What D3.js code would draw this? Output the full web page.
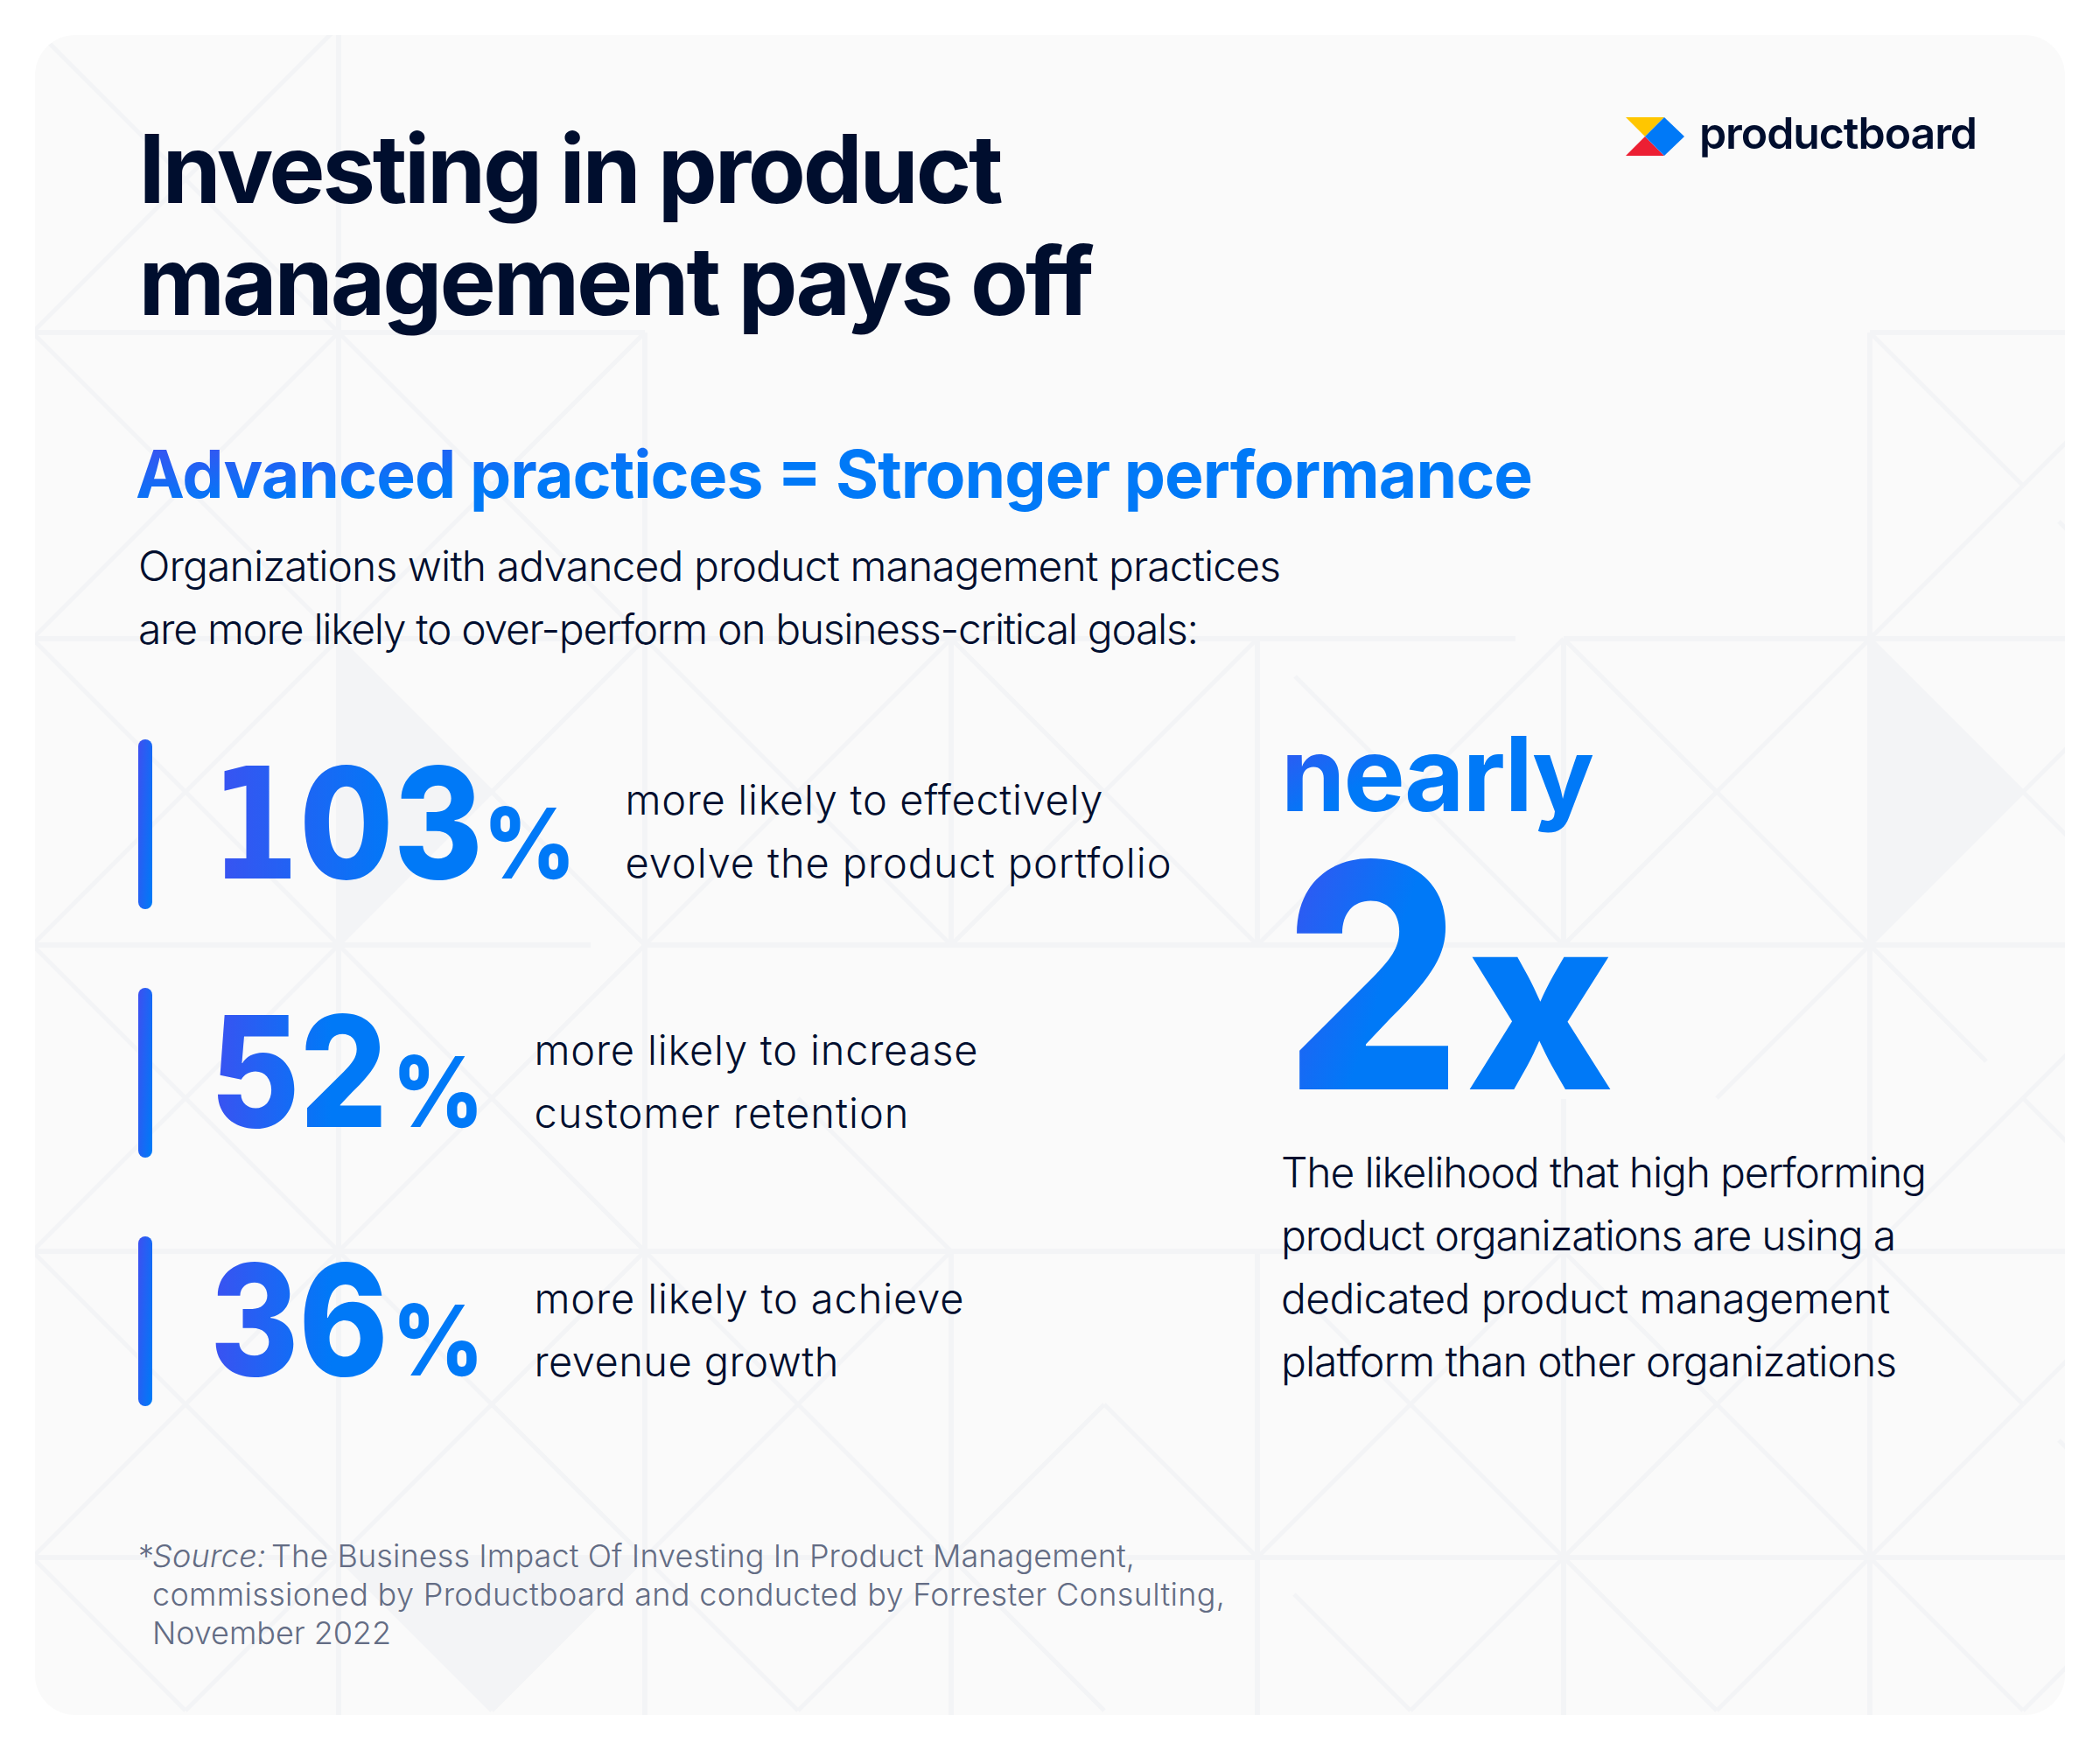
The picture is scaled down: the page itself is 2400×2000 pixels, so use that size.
<!DOCTYPE html>
<html lang="en">
<head>
  <meta charset="UTF-8">
  <title>Investing in product management pays off</title>
  <script src="https://cdnjs.cloudflare.com/ajax/libs/d3/7.8.5/d3.min.js"></script>
  <style>
    html, body { margin: 0; padding: 0; background: #fff; }
    svg { display: block; }
    text { font-family: Inter, "Liberation Sans", sans-serif; }
  </style>
</head>
<body>
  <div id="chart"></div>
  <script>
    // Chart text and values
    const titleLines = ["Investing in product", "management pays off"];
    const subheadText = "Advanced practices = Stronger performance";
    const introLines = [
      "Organizations with advanced product management practices",
      "are more likely to over-perform on business-critical goals:"
    ];
    const statValues = [103, 52, 36];
    const statUnit = "%";
    const statLines = [
      ["more likely to effectively", "evolve the product portfolio"],
      ["more likely to increase", "customer retention"],
      ["more likely to achieve", "revenue growth"]
    ];
    const multipleLead = "nearly";
    const multipleValue = 2;
    const multipleUnit = "x";
    const multipleLines = [
      "The likelihood that high performing",
      "product organizations are using a",
      "dedicated product management",
      "platform than other organizations"
    ];
    const sourceLines = [
      "The Business Impact Of Investing In Product Management,",
      "commissioned by Productboard and conducted by Forrester Consulting,",
      "November 2022"
    ];
    const logoName = "productboard";

    // Background pattern, all in grid cell units
    const hRuns = [[1, -0.1, 2], [1, 6, 7], [2, -0.1, 4.843], [2, 5, 7], [3, -0.1, 1.823], [3, 2, 7], [4, -0.1, 7], [5, -0.1, 7]];
    const vRuns = [[1, 0, 6], [2, 1, 6], [3, 2, 3], [3, 4, 6], [4, 2, 3], [4, 4, 6], [5, 2, 3], [5, 3.503, 6], [6, 1, 6]];
    const ALL = "NW NE SW SE";
    const armCells = [
      [0, 0, ALL],
      [0, 1, ALL], [1, 1, ALL], [6, 1, "NW NE SW"],
      [0, 2, ALL], [1, 2, ALL], [2, 2, ALL], [3, 2, ALL], [4, 2, "NE SW SE"], [5, 2, ALL], [6, 2, ALL],
      [0, 3, ALL], [1, 3, ALL], [2, 3, "SE"], [5, 3, "NE"], [6, 3, "NE SW SE"],
      [0, 4, ALL], [1, 4, ALL], [2, 4, ALL], [3, 4, "SW SE"], [4, 4, "NE SW SE"], [5, 4, ALL], [6, 4, "NW NE SW"],
      [0, 5, "NW NE"], [1, 5, "NW NE"], [2, 5, "NW NE"], [3, 5, "NW"], [4, 5, "NE"], [5, 5, "NW NE"], [6, 5, "NW NE"]
    ];
    // Arms cut short: col, row, arm, from, to (0 = cell corner, 1 = cell centre)
    const armCuts = [
      [6, 1, "SE", 0, 0.766], [4, 2, "NW", 0.246, 1], [6, 3, "NW", 0, 0.76],
      [4, 4, "NW", 0.37, 1], [6, 4, "SE", 0, 0.766], [4, 5, "NW", 0.24, 1]
    ];
    const shadedCells = [[1, 2, "NW SW"], [6, 2, "NW SW"], [1, 5, "NW NE"]];

    const width = 2400;
    const height = 2000;
    const ink = "#000E2E";
    const blue = "#0079F7";
    const patternColor = "#F3F4F6";

    const gx = d3.scaleLinear().domain([0, 1]).range([37, 387]);
    const gy = d3.scaleLinear().domain([0, 1]).range([30, 380]);
    const statY = d3.scalePoint().domain(d3.range(statValues.length)).range([0, 568]);

    const svg = d3.select("#chart").append("svg").attr("width", width).attr("height", height);
    const defs = svg.append("defs");

    function addGradient(id, stop) {
      const g = defs.append("linearGradient").attr("id", id)
        .attr("x1", 0).attr("y1", 0.15).attr("x2", 1).attr("y2", 0.85);
      g.append("stop").attr("offset", 0).attr("stop-color", "#3A52F1");
      g.append("stop").attr("offset", stop).attr("stop-color", blue);
    }
    addGradient("gradHead", 0.38);
    addGradient("gradTwo", 0.55);
    addGradient("gradBar", 1);

    // Number gradient runs in page space, so split glyph runs share it
    function addNumberGradient(id, x0, x1) {
      const g = defs.append("linearGradient").attr("id", id).attr("gradientUnits", "userSpaceOnUse")
        .attr("x1", x0).attr("y1", 0).attr("x2", x1).attr("y2", 0);
      g.append("stop").attr("offset", 0).attr("stop-color", "#3A52F1");
      g.append("stop").attr("offset", 1).attr("stop-color", blue);
    }

    defs.append("clipPath").attr("id", "panelClip").append("rect")
      .attr("x", 40).attr("y", 40).attr("width", 2320).attr("height", 1920).attr("rx", 46);

    svg.append("rect").attr("x", 40).attr("y", 40).attr("width", 2320).attr("height", 1920)
      .attr("rx", 46).attr("fill", "#FAFAFA");

    // Background pattern
    const pattern = svg.append("g").attr("clip-path", "url(#panelClip)");

    const corner = {NW: [0, 0], NE: [1, 0], SW: [0, 1], SE: [1, 1]};
    const armPoint = (c, r, arm, t) => [
      gx(c + corner[arm][0] + (0.5 - corner[arm][0]) * t),
      gy(r + corner[arm][1] + (0.5 - corner[arm][1]) * t)
    ];

    pattern.selectAll("polygon").data(shadedCells).join("polygon")
      .attr("fill", patternColor)
      .attr("points", d => {
        const arms = d[2].split(" ");
        return [armPoint(d[0], d[1], arms[0], 0), armPoint(d[0], d[1], arms[0], 1), armPoint(d[0], d[1], arms[1], 0)].join(" ");
      });

    pattern.selectAll("line.h").data(hRuns).join("line").attr("class", "h")
      .attr("x1", d => gx(d[1])).attr("x2", d => gx(d[2]))
      .attr("y1", d => gy(d[0])).attr("y2", d => gy(d[0]))
      .attr("stroke", patternColor).attr("stroke-width", 6);

    pattern.selectAll("line.v").data(vRuns).join("line").attr("class", "v")
      .attr("x1", d => gx(d[0])).attr("x2", d => gx(d[0]))
      .attr("y1", d => gy(d[1])).attr("y2", d => gy(d[2]))
      .attr("stroke", patternColor).attr("stroke-width", 6);

    const arms = armCells.flatMap(d => d[2].split(" ").map(a => [d[0], d[1], a, 0, 1])).concat(armCuts);
    pattern.selectAll("line.d").data(arms).join("line").attr("class", "d")
      .attr("x1", d => armPoint(d[0], d[1], d[2], d[3])[0])
      .attr("y1", d => armPoint(d[0], d[1], d[2], d[3])[1])
      .attr("x2", d => armPoint(d[0], d[1], d[2], d[4])[0])
      .attr("y2", d => armPoint(d[0], d[1], d[2], d[4])[1])
      .attr("stroke", patternColor).attr("stroke-width", 5);

    // Text helper, textLength pins each line to the width seen in the picture
    function addText(str, x, y, size, weight, fill, w, adjust) {
      return svg.append("text").attr("x", x).attr("y", y)
        .attr("font-size", size).attr("font-weight", weight).attr("fill", fill)
        .attr("textLength", w).attr("lengthAdjust", adjust || "spacing")
        .text(str);
    }

    // Title, subhead and intro
    const titleWidths = [988, 1092];
    titleLines.forEach((t, i) => addText(t, 158.5, 232 + i * 128, 108, 700, ink, titleWidths[i]));
    addText(subheadText, 155, 568.5, 75, 700, "url(#gradHead)", 1597);
    const introWidths = [1306, 1212];
    introLines.forEach((t, i) => addText(t, 158, 664 + i * 72, 48, 300, ink, introWidths[i]));

    // Stats; the leading 1 of 103 has a slab foot, which DejaVu Sans Bold carries
    const statRuns = [
      [{text: "1", x: 240, w: 102, font: "DejaVu Sans"}, {text: "03", x: 342, w: 210}],
      [{text: "52", x: 240, w: 203}],
      [{text: "36", x: 240, w: 204}]
    ];
    const statUnitX = [[552, 106], [448, 105], [448, 105]];
    const statTextX = [714.5, 610.5, 610.5];
    const statTextY = [931, 1217, 1501];
    const statTextWidths = [[546, 624], [507, 428], [491, 348]];

    statValues.forEach((v, i) => {
      const dy = statY(i);
      const runs = statRuns[i];
      const last = runs[runs.length - 1];
      const gradId = "gradNumber" + i;
      addNumberGradient(gradId, runs[0].x + 5, runs[0].x + (last.x + last.w - runs[0].x) * 0.68);
      svg.append("rect").attr("x", 158).attr("y", 845 + dy).attr("width", 16).attr("height", 194)
        .attr("rx", 8).attr("fill", "url(#gradBar)");
      runs.forEach(r => {
        const t = addText(r.text, r.x, 1004 + dy, 176, 800, `url(#${gradId})`, r.w, "spacingAndGlyphs");
        if (r.font) t.style("font-family", r.font).attr("font-weight", 700);
      });
      addText(statUnit, statUnitX[i][0], 1004 + dy, 112, 800, blue, statUnitX[i][1], "spacingAndGlyphs");
      statLines[i].forEach((t, j) => addText(t, statTextX[i], statTextY[i] + j * 72, 47, 300, ink, statTextWidths[i][j]));
    });

    // Right hand block
    addText(multipleLead, 1464, 927, 118, 700, "url(#gradHead)", 358);
    addText(String(multipleValue), 1468, 1245, 358, 800, "url(#gradTwo)", 202, "spacingAndGlyphs");
    addText(multipleUnit, 1675, 1245, 277, 800, blue, 170, "spacingAndGlyphs");
    const multipleWidths = [738, 703, 696, 704];
    multipleLines.forEach((t, i) => addText(t, 1464, 1356.5 + i * 72, 48, 300, ink, multipleWidths[i]));

    // Source note
    const sourceColor = "#636C84";
    addText("*", 158, 1791, 36, 300, sourceColor, 16);
    svg.append("text").attr("x", 174).attr("y", 1791).attr("font-size", 36).attr("font-weight", 300)
      .attr("font-style", "italic").attr("fill", sourceColor).attr("textLength", 130).text("Source:");
    addText(sourceLines[0], 310, 1791, 36, 300, sourceColor, 987);
    const sourceWidths = [0, 1226, 273];
    sourceLines.slice(1).forEach((t, i) => addText(t, 174, 1835 + i * 44, 36, 300, sourceColor, sourceWidths[i + 1]));

    // Logo
    const logoShapes = [
      {fill: "#FFC600", pts: [[1858, 134], [1902, 134], [1880, 156]]},
      {fill: "#EC1F33", pts: [[1858, 178], [1880, 156], [1902, 178]]},
      {fill: blue, pts: [[1902, 134], [1925, 156], [1902, 178], [1880, 156]]}
    ];
    svg.selectAll("polygon.logo").data(logoShapes).join("polygon").attr("class", "logo")
      .attr("fill", d => d.fill).attr("points", d => d.pts.join(" "));
    addText(logoName, 1942, 170, 50, 600, ink, 318);
  </script>
</body>
</html>
